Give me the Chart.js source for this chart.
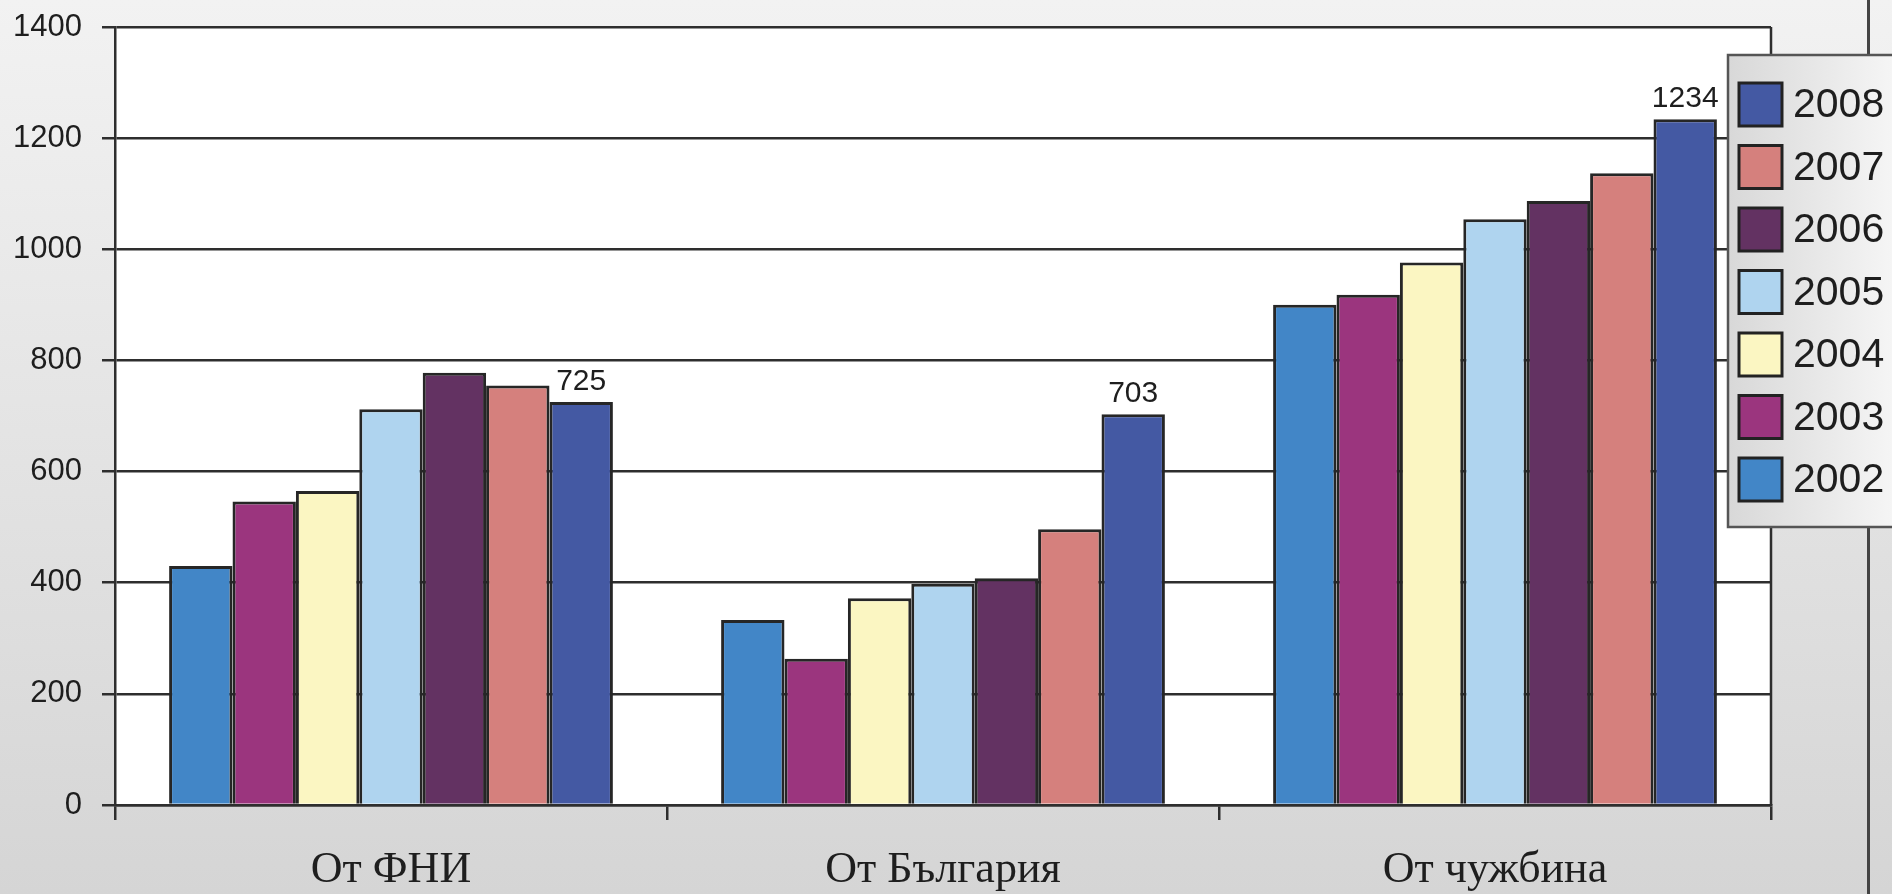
<!DOCTYPE html>
<html>
<head>
<meta charset="utf-8">
<script src="https://cdn.jsdelivr.net/npm/chart.js@4.4.0/dist/chart.umd.min.js"></script>
<style>
  html, body { margin: 0; padding: 0; background: #e4e4e4; }
  canvas { display: block; }
</style>
</head>
<body>
<canvas id="chart" width="1892" height="894"></canvas>
<script>
// Funding sources (categories) and yearly values
const categories = ['От ФНИ', 'От България', 'От чужбина'];
const years = ['2002', '2003', '2004', '2005', '2006', '2007', '2008'];

const v2002 = [430, 333, 900];
const v2003 = [546, 263, 918];
const v2004 = [565, 372, 976];
const v2005 = [712, 398, 1054];
const v2006 = [778, 408, 1087];
const v2007 = [755, 496, 1137];
const v2008 = [725, 703, 1234];

const yTicks = [0, 200, 400, 600, 800, 1000, 1200, 1400];

const seriesValues = [v2002, v2003, v2004, v2005, v2006, v2007, v2008];
const seriesColors = ['#4286c7', '#9b357e', '#fbf6c2', '#afd4ef', '#633262', '#d5807d', '#4459a3'];

const SANS = '"Liberation Sans", Arial, sans-serif';
const SERIF = '"Liberation Serif", "Times New Roman", serif';
const INK = '#1e1e1e';
const RULE = '#2e2e2e';

const datasets = years.map((y, i) => ({
  label: y,
  data: seriesValues[i],
  backgroundColor: seriesColors[i],
  borderColor: '#262626',
  borderWidth: 3,
  borderSkipped: 'bottom',
  barPercentage: 1.0,
  categoryPercentage: 0.804
}));

// Page background, white plot area
const backdrop = {
  id: 'backdrop',
  beforeDraw(chart) {
    const { ctx, width, height, chartArea: a } = chart;
    ctx.save();
    const g = ctx.createLinearGradient(0, 0, 0, height);
    g.addColorStop(0, '#f2f2f2');
    g.addColorStop(1, '#d5d5d5');
    ctx.fillStyle = g;
    ctx.fillRect(0, 0, width, height);
    ctx.fillStyle = '#ffffff';
    ctx.fillRect(a.left, a.top, a.right - a.left, a.bottom - a.top);
    ctx.restore();
  }
};

// Right plot border, outer frame line, value labels on the 2008 bars, legend box
const overlay = {
  id: 'overlay',
  afterDraw(chart) {
    const { ctx, chartArea: a, height } = chart;
    ctx.save();

    ctx.strokeStyle = RULE;
    ctx.lineWidth = 2.5;
    ctx.beginPath();
    ctx.moveTo(Math.round(a.right), a.top);
    ctx.lineTo(Math.round(a.right), a.bottom);
    ctx.stroke();

    ctx.strokeStyle = '#444444';
    ctx.lineWidth = 3;
    ctx.beginPath();
    ctx.moveTo(1868.5, 0);
    ctx.lineTo(1868.5, height);
    ctx.stroke();

    // values above the latest year's bars
    const last = chart.data.datasets.length - 1;
    const meta = chart.getDatasetMeta(last);
    ctx.fillStyle = INK;
    ctx.font = '30px ' + SANS;
    ctx.textAlign = 'center';
    ctx.textBaseline = 'alphabetic';
    meta.data.forEach((bar, i) => {
      ctx.fillText(String(chart.data.datasets[last].data[i]), bar.x, bar.y - 12);
    });

    // legend (newest year on top)
    const bx = 1728, by = 55, bw = 200, bh = 472;
    const lg = ctx.createLinearGradient(bx, 0, bx + 170, 0);
    lg.addColorStop(0, '#d8d8d8');
    lg.addColorStop(1, '#f6f6f6');
    ctx.fillStyle = lg;
    ctx.fillRect(bx, by, bw, bh);
    ctx.strokeStyle = '#555555';
    ctx.lineWidth = 2.5;
    ctx.strokeRect(bx, by, bw, bh);

    const items = chart.data.datasets.slice().reverse();
    ctx.font = '41px ' + SANS;
    ctx.textAlign = 'left';
    ctx.textBaseline = 'middle';
    items.forEach((ds, i) => {
      const sy = 83 + i * 62.5;
      ctx.fillStyle = ds.backgroundColor;
      ctx.fillRect(1739, sy, 43, 43);
      ctx.strokeStyle = '#222222';
      ctx.lineWidth = 3;
      ctx.strokeRect(1739, sy, 43, 43);
      ctx.fillStyle = INK;
      ctx.fillText(ds.label, 1793, sy + 23);
    });

    ctx.restore();
  }
};

new Chart(document.getElementById('chart'), {
  type: 'bar',
  data: { labels: categories, datasets },
  options: {
    responsive: false,
    devicePixelRatio: 1,
    animation: false,
    layout: { padding: { top: 27, right: 121, left: 0, bottom: 0 } },
    plugins: { legend: { display: false }, tooltip: { enabled: false } },
    scales: {
      x: {
        offset: true,
        grid: {
          offset: true,
          drawOnChartArea: false,
          drawTicks: true,
          tickLength: 15,
          tickColor: RULE,
          tickWidth: 2.5,
          lineWidth: 2.5,
          color: RULE
        },
        border: { display: true, color: RULE, width: 2.5 },
        ticks: { font: { family: SERIF, size: 44 }, color: INK, padding: 24, maxRotation: 0 },
        afterFit(scale) {
          scale.height = 89;
          scale.paddingLeft = 0;
          scale.paddingRight = 0;
        }
      },
      y: {
        min: 0,
        max: 1400,
        afterBuildTicks(scale) { scale.ticks = yTicks.map(v => ({ value: v })); },
        grid: { color: RULE, lineWidth: 2.5, tickLength: 13, tickColor: RULE, tickWidth: 2.5 },
        border: { display: true, color: RULE, width: 2.5 },
        ticks: { font: { family: SANS, size: 31 }, color: INK, padding: 20, callback: v => String(v) },
        afterFit(scale) {
          scale.width = 115;
          scale.paddingTop = 0;
          scale.paddingBottom = 0;
        }
      }
    }
  },
  plugins: [backdrop, overlay]
});
</script>
</body>
</html>
